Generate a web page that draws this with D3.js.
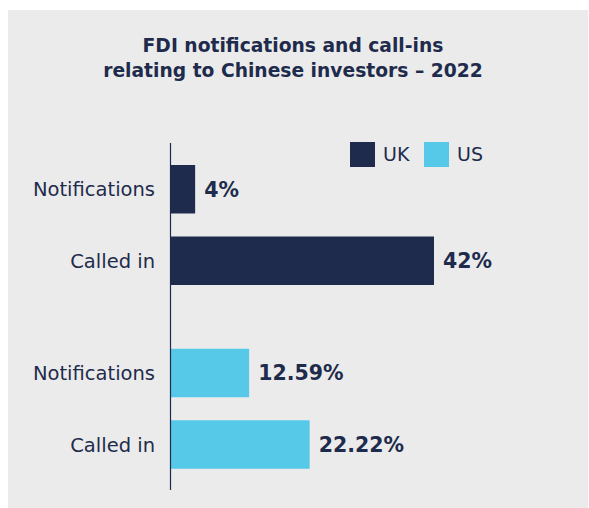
<!DOCTYPE html>
<html>
<head>
<meta charset="utf-8">
<script src="https://cdn.jsdelivr.net/npm/d3@7"></script>
<style>
	body { margin: 0; background: #fff; }
	text { font-family: "DejaVu Sans", sans-serif; fill: #1e2b4c; }
</style>
</head>
<body>
<div id="plot"></div>
<script>
var countries = ["UK", "US"];
var metrics = ["Notifications", "Called in"];
var ukValues = [4, 42];
var usValues = [12.59, 22.22];
var valueLabels = [["4%", "42%"], ["12.59%", "22.22%"]];
var colors = ["#1e2b4c", "#56c8e8"];

var W = 589, H = 508;
var svg = d3.select("#plot").append("svg")
	.attr("width", W)
	.attr("height", H);

svg.append("rect")
	.attr("x", 8).attr("y", 10)
	.attr("width", 580).attr("height", 498)
	.style("fill", "#ebebeb");

// title
svg.append("text")
	.attr("x", 293).attr("y", 52)
	.attr("text-anchor", "middle")
	.style("font-size", "18.7px").style("font-weight", "bold")
	.text("FDI notifications and call-ins");
svg.append("text")
	.attr("x", 293).attr("y", 77)
	.attr("text-anchor", "middle")
	.style("font-size", "18.7px").style("font-weight", "bold")
	.text("relating to Chinese investors \u2013 2022");

var x0 = 170;
var x = d3.scaleLinear().domain([0, 42]).range([x0, 434]);

var yOuter = d3.scaleBand().domain(countries).range([165, 468.75]).paddingInner(0.347);
var yInner = d3.scaleBand().domain(metrics).range([0, yOuter.bandwidth()]).paddingInner(0.322);

var data = [];
countries.forEach(function(c, i) {
	var vals = i == 0 ? ukValues : usValues;
	metrics.forEach(function(m, j) {
		data.push({country: c, metric: m, value: vals[j], label: valueLabels[i][j], color: colors[i]});
	});
});

var g = svg.append("g");

g.selectAll("rect.bar")
	.data(data)
	.enter().append("rect")
	.attr("class", "bar")
	.attr("x", x(0))
	.attr("y", function(d) { return yOuter(d.country) + yInner(d.metric); })
	.attr("width", function(d) { return x(d.value) - x(0); })
	.attr("height", yInner.bandwidth())
	.style("fill", function(d) { return d.color; });

g.selectAll("text.val")
	.data(data)
	.enter().append("text")
	.attr("class", "val")
	.attr("x", function(d) { return x(d.value) + 9; })
	.attr("y", function(d) { return yOuter(d.country) + yInner(d.metric) + yInner.bandwidth() / 2; })
	.attr("dy", "0.36em")
	.style("font-size", "20.5px").style("font-weight", "bold")
	.text(function(d) { return d.label; });

g.selectAll("text.cat")
	.data(data)
	.enter().append("text")
	.attr("class", "cat")
	.attr("x", x0 - 15)
	.attr("y", function(d) { return yOuter(d.country) + yInner(d.metric) + yInner.bandwidth() / 2; })
	.attr("dy", "0.36em")
	.attr("text-anchor", "end")
	.style("font-size", "19.5px")
	.text(function(d) { return d.metric; });

// axis line
svg.append("line")
	.attr("x1", x0 + 0.5).attr("x2", x0 + 0.5)
	.attr("y1", 143).attr("y2", 490)
	.attr("stroke", "#1e2b4c").attr("stroke-width", 1.2);

// legend
var legend = svg.append("g").selectAll("g")
	.data(countries)
	.enter().append("g")
	.attr("transform", function(d, i) { return "translate(" + (350 + i * 74) + ",142)"; });
legend.append("rect")
	.attr("width", 25).attr("height", 25)
	.style("fill", function(d, i) { return colors[i]; });
legend.append("text")
	.attr("x", 33).attr("y", 12.5).attr("dy", "0.36em")
	.style("font-size", "19px")
	.text(function(d) { return d; });
</script>
</body>
</html>
